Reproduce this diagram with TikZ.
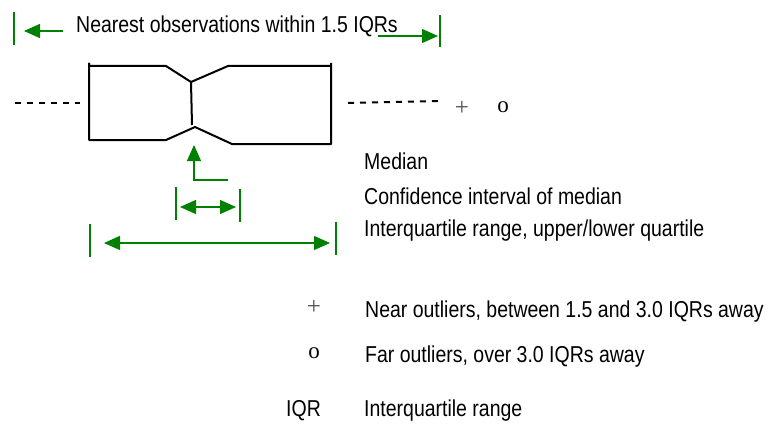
\documentclass[tikz,border=0pt]{standalone}
\usepackage{fontspec}
\setmainfont{Liberation Sans}[FakeStretch=0.847]
\newfontfamily\serifsym{Liberation Serif}
\usetikzlibrary{arrows.meta}
\definecolor{arrowgreen}{RGB}{0,128,0}
\definecolor{symgray}{RGB}{80,80,80}
\begin{document}
\begin{tikzpicture}[x=1pt,y=-1pt,
  lbl/.style={anchor=base west,inner sep=0pt,font=\fontsize{23}{28}\selectfont},
  gtick/.style={draw=arrowgreen,line width=1.4pt},
  garrow/.style={draw=arrowgreen,line width=1.2pt,-{Triangle[length=16pt,width=14pt]}},
  gdarrow/.style={draw=arrowgreen,line width=1.2pt,{Triangle[length=16pt,width=14pt]}-{Triangle[length=16pt,width=14pt]}},
  boxline/.style={line width=2pt,line join=round},
  whisk/.style={line width=2pt,dash pattern=on 6pt off 6pt},
  plussym/.style={inner sep=0pt,text=symgray,font=\serifsym\fontsize{25}{30}\selectfont},
  osym/.style={inner sep=0pt,font=\serifsym\fontsize{23}{28}\selectfont}]
\useasboundingbox (0,0) rectangle (771,428);

% --- top: nearest observations ---
\node[lbl] (nearest) at (76,33) {Nearest observations within 1.5 IQRs};
\coordinate (tlA) at (14,12); \coordinate (tlB) at (14,45);
\coordinate (trA) at (440,15); \coordinate (trB) at (440,47);
\draw[gtick] (tlA) -- (tlB);
\draw[gtick] (trA) -- (trB);
\coordinate (laS) at (63,31); \coordinate (laE) at (24,31);
\coordinate (raS) at (378,36); \coordinate (raE) at (438,36);
\draw[garrow] (laS) -- (laE);
\draw[garrow] (raS) -- (raE);

% --- box plot ---
\draw[boxline] (89,63) -- (89,140) -- (166,140) -- (195,127) -- (232,144) -- (331,144) -- (331,63);
\draw[boxline] (89,63) -- (89,66) -- (166,66) -- (191,82) -- (228,66) -- (331,66);
\draw[boxline] (191,82) -- (192,125);
\coordinate (wlA) at (15,103); \coordinate (wlB) at (80,103);
\coordinate (wrA) at (348,103); \coordinate (wrB) at (440,101);
\draw[whisk] (wlA) -- (wlB);
\draw[whisk] (wrA) -- (wrB);
\node[plussym] (plus1) at (462,108) {+};
\node[osym] (o1) at (503,107) {o};

% --- median arrow ---
\coordinate (mA) at (228,180); \coordinate (mB) at (194,180); \coordinate (mC) at (194,145);
\draw[garrow] (mA) -- (mB) -- (mC);

% --- confidence interval ---
\coordinate (ciL1) at (176,187); \coordinate (ciL2) at (176,220);
\coordinate (ciR1) at (240,189); \coordinate (ciR2) at (240,222);
\draw[gtick] (ciL1) -- (ciL2);
\draw[gtick] (ciR1) -- (ciR2);
\coordinate (ciA) at (180,207); \coordinate (ciB) at (236,207);
\draw[gdarrow] (ciA) -- (ciB);

% --- interquartile range ---
\coordinate (iqL1) at (90,224); \coordinate (iqL2) at (90,257);
\coordinate (iqR1) at (336,222); \coordinate (iqR2) at (336,255);
\draw[gtick] (iqL1) -- (iqL2);
\draw[gtick] (iqR1) -- (iqR2);
\coordinate (iqA) at (104,243); \coordinate (iqB) at (330,243);
\draw[gdarrow] (iqA) -- (iqB);

% --- labels ---
\node[lbl] (median) at (364,169) {Median};
\node[lbl] (ci) at (364,204) {Confidence interval of median};
\node[lbl] (iqr) at (364,236) {Interquartile range, upper/lower quartile};

% --- legend ---
\node[plussym] (plus2) at (314,307) {+};
\node[lbl] (near) at (365,317) {Near outliers, between 1.5 and 3.0 IQRs away};
\node[osym] (o2) at (314,353) {o};
\node[lbl] (far) at (365,362) {Far outliers, over 3.0 IQRs away};
\node[lbl] (iqrab) at (286,416) {IQR};
\node[lbl] (iqrdef) at (364,416) {Interquartile range};
\end{tikzpicture}
\end{document}
